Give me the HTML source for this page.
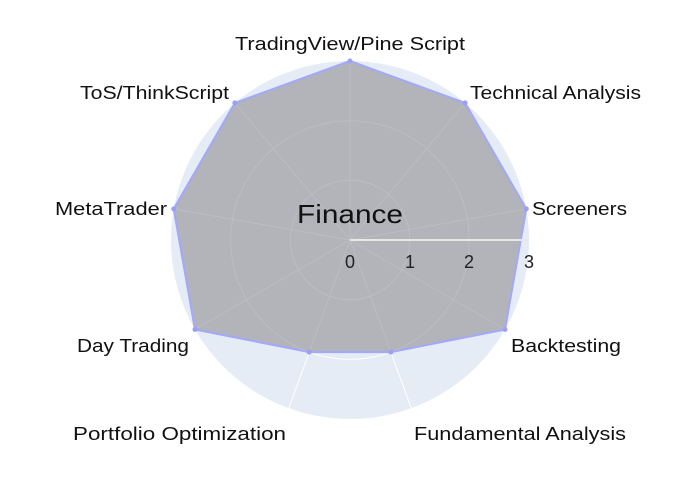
<!DOCTYPE html>
<html><head><meta charset="utf-8"><style>html,body{margin:0;padding:0;background:#fff}svg{display:block}</style></head>
<body>
<svg width="700" height="500" viewBox="0 0 700 500" xmlns="http://www.w3.org/2000/svg" font-family="Liberation Sans, sans-serif">
<g transform="translate(350,240)">
<circle r="179" fill="#e5ecf6"/>
<g fill="none" stroke="#fff" stroke-width="1">
<circle r="59.7"/><circle r="119.3"/>
<line x1="0" y1="0" x2="0" y2="-179"/>
<line x1="0" y1="0" x2="115.1" y2="-137.1"/>
<line x1="0" y1="0" x2="176.3" y2="-31.1"/>
<line x1="0" y1="0" x2="155" y2="89.5"/>
<line x1="0" y1="0" x2="61.2" y2="168.2"/>
<line x1="0" y1="0" x2="-61.2" y2="168.2"/>
<line x1="0" y1="0" x2="-155" y2="89.5"/>
<line x1="0" y1="0" x2="-176.3" y2="-31.1"/>
<line x1="0" y1="0" x2="-115.1" y2="-137.1"/>
</g>
<polygon points="0,-179 115.1,-137.1 176.3,-31.1 155,89.5 40.8,112.1 -40.8,112.1 -155,89.5 -176.3,-31.1 -115.1,-137.1" fill="#b2b4ba" stroke="#a3a8fa" stroke-width="2"/>
<g fill="none" stroke="#fff" stroke-width="1" opacity="0.12">
<circle r="59.7"/><circle r="119.3"/>
<line x1="0" y1="0" x2="0" y2="-179"/>
<line x1="0" y1="0" x2="115.1" y2="-137.1"/>
<line x1="0" y1="0" x2="176.3" y2="-31.1"/>
<line x1="0" y1="0" x2="155" y2="89.5"/>
<line x1="0" y1="0" x2="61.2" y2="168.2"/>
<line x1="0" y1="0" x2="-61.2" y2="168.2"/>
<line x1="0" y1="0" x2="-155" y2="89.5"/>
<line x1="0" y1="0" x2="-176.3" y2="-31.1"/>
<line x1="0" y1="0" x2="-115.1" y2="-137.1"/>
</g>
<g fill="#9aa0f8">
<circle cx="0" cy="-179" r="2.5"/><circle cx="115.1" cy="-137.1" r="2.5"/><circle cx="176.3" cy="-31.1" r="2.5"/><circle cx="155" cy="89.5" r="2.5"/><circle cx="40.8" cy="112.1" r="2.5"/><circle cx="-40.8" cy="112.1" r="2.5"/><circle cx="-155" cy="89.5" r="2.5"/><circle cx="-176.3" cy="-31.1" r="2.5"/><circle cx="-115.1" cy="-137.1" r="2.5"/>
</g>
<line x1="0" y1="0" x2="179" y2="0" stroke="#e8e8e8" stroke-width="2"/>
<g font-size="18" fill="#222" text-anchor="middle">
<text x="0" y="28">0</text><text x="60" y="28">1</text><text x="119" y="28">2</text><text x="179" y="28">3</text>
</g>
</g>
<text x="350" y="223" font-size="26" text-anchor="middle" fill="#111" textLength="106" lengthAdjust="spacingAndGlyphs">Finance</text>
<g font-size="18" fill="#111">
<text x="235" y="50" textLength="230" lengthAdjust="spacingAndGlyphs">TradingView/Pine Script</text>
<text x="470" y="99" textLength="171" lengthAdjust="spacingAndGlyphs">Technical Analysis</text>
<text x="532" y="215" textLength="95" lengthAdjust="spacingAndGlyphs">Screeners</text>
<text x="511" y="352" textLength="110" lengthAdjust="spacingAndGlyphs">Backtesting</text>
<text x="414" y="440" textLength="212" lengthAdjust="spacingAndGlyphs">Fundamental Analysis</text>
<text x="73" y="440" textLength="213" lengthAdjust="spacingAndGlyphs">Portfolio Optimization</text>
<text x="77" y="352" textLength="112" lengthAdjust="spacingAndGlyphs">Day Trading</text>
<text x="55" y="215" textLength="112" lengthAdjust="spacingAndGlyphs">MetaTrader</text>
<text x="80" y="99" textLength="149" lengthAdjust="spacingAndGlyphs">ToS/ThinkScript</text>
</g>
</svg>
</body></html>
